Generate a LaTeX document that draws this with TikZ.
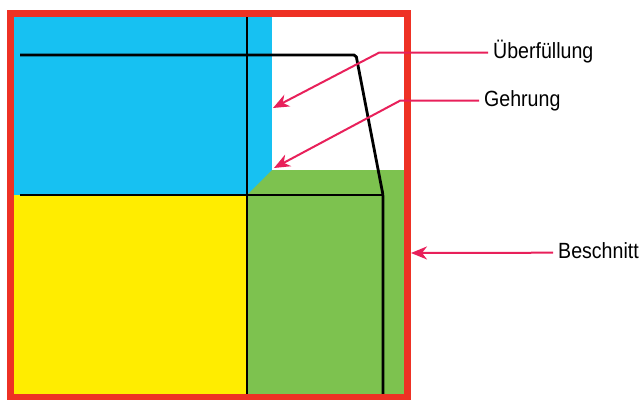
\documentclass[tikz,border=0pt]{standalone}
\usepackage{fontspec}
\setmainfont[FakeStretch=0.89]{Liberation Sans}
\usetikzlibrary{arrows.meta}
\definecolor{cyanfill}{HTML}{17C1F2}
\definecolor{yellowfill}{HTML}{FFED00}
\definecolor{greenfill}{HTML}{7DC24F}
\definecolor{redframe}{HTML}{EE3124}
\definecolor{pointerpink}{HTML}{E8205A}
\tikzset{
  cutline/.style={line width=2.8pt, black, line join=miter},
  pointer/.style={line width=2pt, pointerpink, -{Stealth[length=16pt, width=13pt, inset=5pt]}},
  label/.style={anchor=west, inner xsep=5pt, inner ysep=0pt, text height=11pt, text depth=0pt, font=\fontsize{22}{26}\selectfont},
}
\begin{document}
\begin{tikzpicture}[x=1pt,y=-1pt]
\useasboundingbox (0,0) rectangle (640,399);
% colour areas
\fill[cyanfill] (14,17) rectangle (272,195);
\fill[yellowfill] (14,195) rectangle (247,394);
\fill[greenfill] (272,170) -- (404,170) -- (404,394) -- (247,394) -- (247,195) -- cycle;
% black lines
\draw[cutline, rounded corners=2pt] (20,55) -- (356,55) -- (383,195) -- (383,394);
\draw[cutline] (20,195) -- (383,195);
\draw[cutline] (247,17) -- (247,394);
% red frame
\draw[redframe, line width=7.4pt] (10.5,13.4) rectangle (407.6,398);
% labels
\node[label] (ueb) at (488,52.7) {Überfüllung};
\node[label] (geh) at (479,100.7) {Gehrung};
\node[label] (bes) at (553,252.7) {Beschnitt};
\coordinate (uebbend) at (379,52.7);
\coordinate (gehbend) at (400,100.7);
\coordinate (uebtip) at (273,108);
\coordinate (gehtip) at (274,168);
\coordinate (bestip) at (411,253);
\draw[pointer] (ueb.west) -- (uebbend) -- (uebtip);
\draw[pointer] (geh.west) -- (gehbend) -- (gehtip);
\draw[pointer] (bes.west) -- (bestip);
\end{tikzpicture}
\end{document}
